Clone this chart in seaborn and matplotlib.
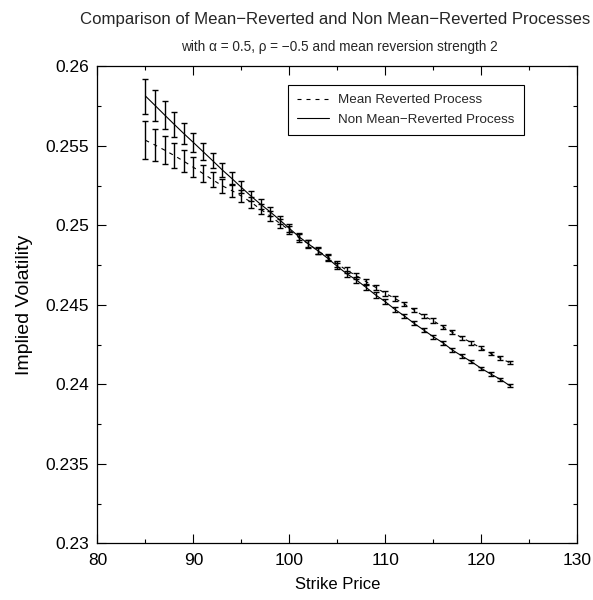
import numpy as np
import pandas as pd
import matplotlib
matplotlib.use("Agg")
import matplotlib.pyplot as plt
import matplotlib.ticker as mticker
import seaborn as sns

# strike prices (x categories)
strike = [85, 86, 87, 88, 89, 90, 91, 92, 93, 94, 95, 96, 97, 98, 99, 100,
          101, 102, 103, 104, 105, 106, 107, 108, 109, 110, 111, 112, 113,
          114, 115, 116, 117, 118, 119, 120, 121, 122, 123]

# implied volatility, mean reverted process (dashed)
vol_mean_rev = [0.25536, 0.25506, 0.25474, 0.25440, 0.25404, 0.25366, 0.25327,
                0.25288, 0.25250, 0.25220, 0.25185, 0.25147, 0.25102, 0.25060,
                0.25014, 0.24972, 0.24923, 0.24884, 0.24840, 0.24802, 0.24758,
                0.24718, 0.24684, 0.24647, 0.24611, 0.24573, 0.24542, 0.24506,
                0.24469, 0.24431, 0.24401, 0.24364, 0.24328, 0.24294, 0.24263,
                0.24228, 0.24196, 0.24165, 0.24137]
err_mean_rev = [0.00118, 0.00103, 0.00089, 0.00080, 0.00070, 0.00063, 0.00055,
                0.00048, 0.00045, 0.00042, 0.00038, 0.00035, 0.00032, 0.00030,
                0.00028, 0.00026, 0.00024, 0.00023, 0.00022, 0.00021, 0.00020,
                0.00019, 0.00018, 0.00017, 0.00017, 0.00016, 0.00016, 0.00015,
                0.00015, 0.00014, 0.00014, 0.00013, 0.00013, 0.00012, 0.00012,
                0.00012, 0.00011, 0.00011, 0.00011]

# implied volatility, non mean-reverted process (solid)
vol_non_rev = [0.25814, 0.25755, 0.25695, 0.25636, 0.25578, 0.25522, 0.25465,
               0.25408, 0.25350, 0.25296, 0.25240, 0.25185, 0.25134, 0.25086,
               0.25035, 0.24982, 0.24930, 0.24884, 0.24840, 0.24794, 0.24743,
               0.24696, 0.24657, 0.24611, 0.24563, 0.24521, 0.24473, 0.24431,
               0.24385, 0.24343, 0.24301, 0.24263, 0.24217, 0.24179, 0.24143,
               0.24102, 0.24066, 0.24033, 0.23992]
err_non_rev = [0.00110, 0.00099, 0.00087, 0.00078, 0.00068, 0.00060, 0.00053,
               0.00047, 0.00042, 0.00040, 0.00037, 0.00034, 0.00031, 0.00029,
               0.00027, 0.00025, 0.00023, 0.00022, 0.00021, 0.00020, 0.00019,
               0.00018, 0.00017, 0.00016, 0.00016, 0.00015, 0.00015, 0.00014,
               0.00014, 0.00013, 0.00013, 0.00012, 0.00012, 0.00012, 0.00011,
               0.00011, 0.00011, 0.00010, 0.00010]

labels = ["Mean Reverted Process", "Non Mean\u2212Reverted Process"]

df = pd.DataFrame({
    "strike": strike * 2,
    "vol": vol_mean_rev + vol_non_rev,
    "err": err_mean_rev + err_non_rev,
    "process": [labels[0]] * len(strike) + [labels[1]] * len(strike),
})

sns.set_style("ticks")
plt.rcParams["font.family"] = ["Liberation Sans", "DejaVu Sans"]
plt.rcParams["axes.unicode_minus"] = True

fig = plt.figure(figsize=(5.93, 6.0), dpi=100)
ax = fig.add_axes([0.1644, 0.0942, 0.8086, 0.795])

sns.lineplot(data=df, x="strike", y="vol", style="process",
             dashes={labels[0]: (3.6, 4.5), labels[1]: ""},
             color="black", linewidth=0.8, ax=ax, legend=False)

for name, sub in df.groupby("process"):
    ax.errorbar(sub["strike"], sub["vol"], yerr=sub["err"], fmt="none",
                ecolor="black", elinewidth=1.0, capsize=2.2, capthick=1.0)

# legend handles
h_dash = plt.Line2D([], [], color="black", lw=0.8, linestyle=(0, (3.6, 4.5)))
h_solid = plt.Line2D([], [], color="black", lw=0.8)
leg = ax.legend([h_dash, h_solid], labels, loc="upper left",
                bbox_to_anchor=(0.397, 0.962), fontsize=9.6, frameon=True,
                fancybox=False, edgecolor="black", framealpha=1,
                handlelength=2.4, handletextpad=0.65, borderpad=0.7,
                labelspacing=0.55, borderaxespad=0)
leg.get_frame().set_linewidth(0.8)

ax.set_xlim(80, 130)
ax.set_ylim(0.23, 0.26)
ax.set_xticks([80, 90, 100, 110, 120, 130])
ax.set_yticks([0.23, 0.235, 0.24, 0.245, 0.25, 0.255, 0.26])
ax.xaxis.set_minor_locator(mticker.MultipleLocator(5))
ax.yaxis.set_minor_locator(mticker.MultipleLocator(0.0025))
ax.yaxis.set_major_formatter(mticker.FuncFormatter(lambda v, p: f"{v:g}"))
ax.tick_params(which="both", direction="in", top=True, right=True,
               color="black", width=0.8, labelsize=12.5, labelcolor="black")
ax.tick_params(which="major", length=6.5, pad=6)
ax.tick_params(axis="x", which="major", pad=7)
ax.tick_params(which="minor", length=3.2)
for s in ax.spines.values():
    s.set_color("black")
    s.set_linewidth(0.9)

ax.set_xlabel("Strike Price", fontsize=12, color="black", labelpad=6)
ax.set_ylabel("Implied Volatility", fontsize=14, color="black", labelpad=9)

fig.text(0.565, 0.967, "Comparison of Mean\u2212Reverted and Non Mean\u2212Reverted Processes",
         ha="center", va="center", fontsize=12.1)
fig.text(0.573, 0.921, "with \u03b1 = 0.5, \u03c1 = \u22120.5 and mean reversion strength 2",
         ha="center", va="center", fontsize=9.8)

fig.savefig("out.png", dpi=100)
